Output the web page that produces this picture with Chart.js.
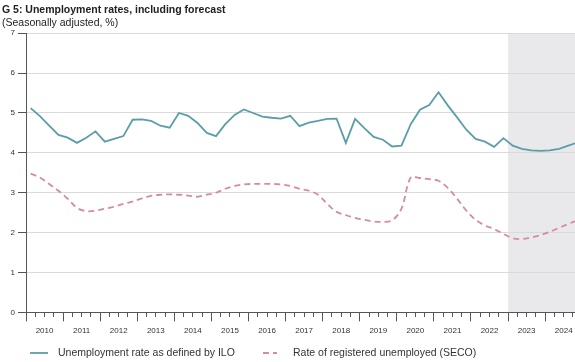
<!DOCTYPE html>
<html><head><meta charset="utf-8">
<script src="https://cdn.jsdelivr.net/npm/chart.js@4"></script>
<style>html,body{margin:0;padding:0;background:#fff;overflow:hidden}canvas{display:block}</style>
</head><body>
<canvas id="c" width="575" height="362"></canvas>
<script>
// ---- data ----
const quarters = [
 '2010Q1','2010Q2','2010Q3','2010Q4','2011Q1','2011Q2','2011Q3','2011Q4',
 '2012Q1','2012Q2','2012Q3','2012Q4','2013Q1','2013Q2','2013Q3','2013Q4',
 '2014Q1','2014Q2','2014Q3','2014Q4','2015Q1','2015Q2','2015Q3','2015Q4',
 '2016Q1','2016Q2','2016Q3','2016Q4','2017Q1','2017Q2','2017Q3','2017Q4',
 '2018Q1','2018Q2','2018Q3','2018Q4','2019Q1','2019Q2','2019Q3','2019Q4',
 '2020Q1','2020Q2','2020Q3','2020Q4','2021Q1','2021Q2','2021Q3','2021Q4',
 '2022Q1','2022Q2','2022Q3','2022Q4','2023Q1','2023Q2','2023Q3','2023Q4',
 '2024Q1','2024Q2','2024Q3','2024Q4'];
const iloRate = [
 5.12,4.92,4.68,4.45, 4.38,4.25,4.38,4.54,
 4.28,4.35,4.42,4.83, 4.84,4.80,4.68,4.63,
 5.00,4.93,4.75,4.50, 4.42,4.72,4.95,5.09,
 5.00,4.91,4.88,4.86, 4.93,4.67,4.76,4.80,
 4.85,4.86,4.25,4.85, 4.62,4.40,4.33,4.16,
 4.18,4.72,5.08,5.20, 5.52,5.19,4.89,4.58,
 4.35,4.28,4.15,4.37, 4.18,4.10,4.06,4.05,
 4.06,4.10,4.18,4.26];
const secoRate = [
 3.48,3.38,3.22,3.05, 2.85,2.62,2.54,2.55,
 2.60,2.65,2.72,2.78, 2.86,2.92,2.95,2.96,
 2.95,2.93,2.90,2.95, 3.00,3.10,3.17,3.21,
 3.22,3.22,3.22,3.21, 3.17,3.10,3.05,2.95,
 2.72,2.52,2.44,2.37, 2.32,2.28,2.27,2.31,
 2.60,3.38,3.37,3.34, 3.30,3.12,2.85,2.55,
 2.32,2.18,2.09,1.97, 1.86,1.84,1.88,1.94,
 2.02,2.12,2.22,2.31];
const yearLabels = ['2010','2011','2012','2013','2014','2015','2016','2017','2018','2019','2020','2021','2022','2023','2024'];
const forecastStart = '2023Q1';
const seriesNames = ['Unemployment rate as defined by ILO','Rate of registered unemployed (SECO)'];

// ---- helpers ----
const FONT = "'Liberation Sans', Arial, sans-serif";
function qx(q){ const y = parseInt(q.slice(0,4),10), n = parseInt(q.slice(5),10); return y + (n - 0.5)/4; }
function pts(vals){ return quarters.map((q,i)=>({x: qx(q), y: vals[i]})); }
const firstYear = parseInt(yearLabels[0],10);
const lastYear = parseInt(yearLabels[yearLabels.length-1],10);
function yearLabelFor(v){
  const frac = Math.round((v - Math.floor(v)) * 100);
  if (frac !== 50) return '';
  const s = yearLabels[Math.floor(v) - firstYear];
  return s === undefined ? '' : s;
}

const shadePlugin = {
  id:'shade',
  beforeDraw(chart){
    const {ctx, chartArea:a, scales:{x}} = chart;
    const x0 = x.getPixelForValue(qx(forecastStart) - 0.125);
    ctx.save();
    ctx.fillStyle = '#e9e9ec';
    ctx.fillRect(x0, a.top, chart.width - x0, a.bottom - a.top);
    ctx.restore();
  }
};
const legendPlugin = {
  id:'customLegend',
  afterDraw(chart){
    const ctx = chart.ctx;
    const y = chart.height - 9;
    const items = [{x0:30, x1:48, tx:58}, {x0:263, x1:277, tx:293}];
    chart.data.datasets.forEach((ds,i)=>{
      const it = items[i];
      ctx.save();
      ctx.strokeStyle = ds.borderColor;
      ctx.lineWidth = ds.borderWidth;
      ctx.setLineDash(ds.borderDash || []);
      ctx.beginPath(); ctx.moveTo(it.x0, y); ctx.lineTo(it.x1, y); ctx.stroke();
      ctx.setLineDash([]);
      ctx.fillStyle = '#333';
      ctx.font = '10.5px ' + FONT;
      ctx.textBaseline = 'middle';
      ctx.fillText(ds.label, it.tx, y);
      ctx.restore();
    });
  }
};

new Chart(document.getElementById('c'), {
  type:'line',
  data:{
    datasets:[
      {label: seriesNames[0], data: pts(iloRate), borderColor:'#5c9ea7', borderWidth:1.8, pointRadius:0, tension:0, fill:false},
      {label: seriesNames[1], data: pts(secoRate), borderColor:'#d68c9f', borderWidth:1.8, borderDash:[6,4], pointRadius:0, tension:0.35, fill:false}
    ]
  },
  options:{
    responsive:false, animation:false, devicePixelRatio:1,
    layout:{padding:{left:2, right:0, top:4, bottom:21}},
    plugins:{
      legend:{display:false},
      tooltip:{enabled:false},
      title:{display:true, text:'G 5: Unemployment rates, including forecast', align:'start', color:'#222',
        font:{family:FONT, size:10.5, weight:'bold'}, padding:{top:0, bottom:0}},
      subtitle:{display:true, text:'(Seasonally adjusted, %)', align:'start', color:'#222',
        font:{family:FONT, size:10.5}, padding:{top:0, bottom:4}}
    },
    scales:{
      x:{
        type:'linear', min:firstYear, max:2024.805,
        afterBuildTicks(scale){
          const t=[];
          for(let i=0; i<=(lastYear-firstYear)*4+3; i++) t.push({value:firstYear + i*0.25});
          scale.ticks = t;
        },
        afterTickToLabelConversion(scale){
          scale.ticks.forEach(t => { t.label = yearLabelFor(t.value); });
        },
        afterFit(scale){ scale.paddingRight = 0; scale.paddingLeft = 0; },
        ticks:{autoSkip:false, maxRotation:0, minRotation:0, padding:5, color:'#333', font:{family:FONT, size:8},
          callback(v){ return yearLabelFor(v); }},
        grid:{drawOnChartArea:false, drawTicks:true, tickLength:9, tickColor:'#555', tickWidth:1,
          tickBorderDash(ctx){ const v = ctx.tick ? ctx.tick.value : 0; return (Math.abs(v - Math.round(v)) < 1e-6) ? [] : [4, 30]; }},
        border:{color:'#555', width:1}
      },
      y:{
        min:0, max:7,
        afterFit(scale){ scale.width = 24; },
        ticks:{stepSize:1, padding:3, color:'#333', font:{family:FONT, size:8}},
        grid:{color:'#dadada', lineWidth:1, tickColor:'#555', tickLength:8, drawTicks:true},
        border:{color:'#555', width:1}
      }
    }
  },
  plugins:[shadePlugin, legendPlugin]
});
</script>
</body></html>
